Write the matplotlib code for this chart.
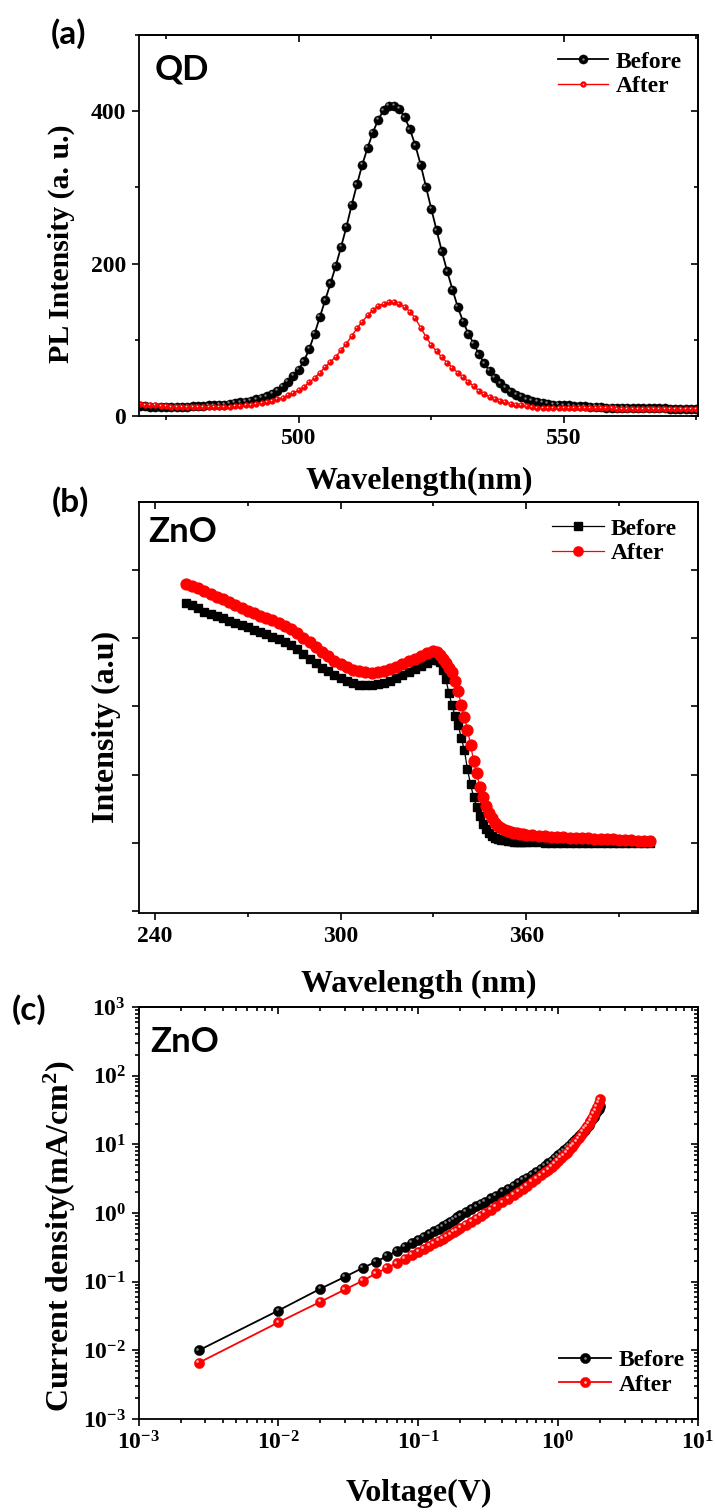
import matplotlib
matplotlib.use('Agg')
import math
import matplotlib.pyplot as plt
from matplotlib.ticker import MultipleLocator, NullFormatter, FuncFormatter, NullLocator
from matplotlib.transforms import offset_copy
from matplotlib.legend_handler import HandlerTuple

# ---------------- data ----------------
# (a) PL of the QD film, 1 nm steps
qd_wavelength = list(range(470, 576))
qd_before = [13, 13, 12, 12, 12, 12, 12, 12, 12, 12,
             13, 13, 13, 14, 14, 15, 15, 16, 17, 18,
             19, 20, 22, 24, 26, 29, 33, 38, 45, 53,
             61, 72, 88, 108, 130, 152, 174, 197, 222, 248,
             277, 304, 330, 352, 372, 389, 401, 407, 407, 403,
             392, 376, 355, 330, 301, 272, 244, 216, 190, 166,
             143, 124, 108, 95, 81, 69, 59, 50, 43, 37,
             32, 28, 25, 22, 20, 19, 17, 16, 15, 15,
             14, 14, 13, 13, 13, 12, 12, 12, 11, 11,
             11, 11, 11, 10, 10, 10, 10, 10, 10, 10,
             9, 9, 9, 9, 9, 9]
qd_after = [16, 15, 14, 14, 13, 13, 12, 12, 12, 12,
            12, 12, 12, 12, 12, 12, 12, 12, 13, 13,
            14, 15, 16, 17, 18, 20, 22, 24, 27, 30,
            34, 38, 44, 50, 57, 64, 71, 78, 86, 95,
            105, 115, 124, 132, 139, 144, 147, 149, 149, 147,
            143, 137, 128, 116, 104, 93, 85, 77, 70, 63,
            57, 51, 45, 39, 33, 29, 25, 22, 20, 18,
            16, 15, 14, 13, 12, 11, 11, 11, 10, 10,
            10, 10, 10, 10, 10, 10, 10, 10, 10, 10,
            9, 9, 9, 9, 9, 9, 9, 9, 9, 9,
            9, 9, 9, 9, 9, 9]

# (b) ZnO absorption
zno_wavelength = (list(range(250, 330, 2)) + list(range(330, 361))
                  + list(range(362, 401, 2)))
zno_before = [1.76, 1.74, 1.72, 1.695, 1.675, 1.66, 1.645, 1.628, 1.61, 1.595,
              1.58, 1.563, 1.547, 1.53, 1.512, 1.495, 1.475, 1.45, 1.42, 1.385,
              1.35, 1.315, 1.285, 1.258, 1.232, 1.21, 1.19, 1.172, 1.16, 1.154,
              1.155, 1.162, 1.172, 1.188, 1.207, 1.228, 1.252, 1.277, 1.30, 1.322,
              1.34, 1.342, 1.325, 1.27, 1.20, 1.10, 1.01, 0.93, 0.865, 0.77,
              0.68, 0.54, 0.43, 0.335, 0.26, 0.195, 0.14, 0.10, 0.072, 0.052,
              0.040, 0.031, 0.024, 0.019, 0.015, 0.012, 0.010, 0.008, 0.007, 0.006,
              0.005,
              0.004, 0.004, 0.003, 0.003, 0.002, 0.002, 0.002, 0.001, 0.001, 0.001,
              0.0, 0.0, 0.0, 0.0, 0.0, 0.0, 0.0, 0.0, 0.0, 0.0]
zno_after = [1.90, 1.88, 1.865, 1.845, 1.825, 1.805, 1.785, 1.765, 1.742, 1.722,
             1.703, 1.685, 1.665, 1.648, 1.63, 1.612, 1.59, 1.565, 1.535, 1.503,
             1.47, 1.435, 1.40, 1.367, 1.335, 1.308, 1.287, 1.27, 1.257, 1.25,
             1.248, 1.252, 1.262, 1.275, 1.29, 1.308, 1.33, 1.35, 1.37, 1.39,
             1.405, 1.40, 1.38, 1.35, 1.315, 1.28, 1.25, 1.19, 1.11, 1.01,
             0.92, 0.83, 0.72, 0.60, 0.51, 0.41, 0.34, 0.27, 0.22, 0.18,
             0.15, 0.125, 0.11, 0.098, 0.09, 0.082, 0.076, 0.071, 0.067, 0.063,
             0.06,
             0.056, 0.053, 0.05, 0.047, 0.044, 0.042, 0.04, 0.038, 0.036, 0.034,
             0.032, 0.03, 0.028, 0.026, 0.024, 0.022, 0.02, 0.018, 0.016, 0.015]

# (c) J-V of the ZnO electron-only device
voltage = [0.0027, 0.01, 0.02, 0.03, 0.04, 0.05, 0.06, 0.07, 0.08, 0.09,
           0.10, 0.11, 0.12, 0.13, 0.14, 0.15, 0.16, 0.17, 0.18, 0.19,
           0.20, 0.22, 0.24, 0.26, 0.28, 0.30, 0.33, 0.36, 0.40, 0.44,
           0.48, 0.52, 0.56, 0.60, 0.65, 0.70, 0.75, 0.80, 0.85, 0.90,
           0.95, 1.00, 1.05, 1.10, 1.15, 1.20, 1.25, 1.30, 1.35, 1.40,
           1.45, 1.50, 1.55, 1.60, 1.65, 1.70, 1.75, 1.80, 1.85, 1.90,
           1.95, 2.00]
j_before = [0.0100, 0.038, 0.079, 0.118, 0.158, 0.196, 0.236, 0.278, 0.32, 0.365,
            0.41, 0.45, 0.50, 0.54, 0.59, 0.64, 0.69, 0.74, 0.80, 0.86,
            0.92, 1.03, 1.14, 1.25, 1.36, 1.47, 1.63, 1.79, 2.02, 2.25,
            2.50, 2.75, 3.00, 3.27, 3.62, 4.0, 4.4, 4.85, 5.3, 5.8,
            6.35, 6.9, 7.5, 8.2, 8.9, 9.6, 10.4, 11.2, 12.1, 13.1,
            14.1, 15.2, 16.4, 17.8, 19.3, 21.0, 23.0, 25.2, 27.6, 30.2,
            33.0, 36.0]
j_after = [0.0066, 0.0255, 0.051, 0.077, 0.103, 0.132, 0.159, 0.185, 0.213, 0.243,
           0.27, 0.30, 0.33, 0.36, 0.39, 0.42, 0.455, 0.49, 0.525, 0.56,
           0.60, 0.67, 0.75, 0.83, 0.91, 1.0, 1.12, 1.25, 1.43, 1.62,
           1.82, 2.03, 2.25, 2.50, 2.82, 3.16, 3.52, 3.9, 4.3, 4.75,
           5.2, 5.75, 6.3, 6.9, 7.6, 8.3, 9.1, 10.0, 11.0, 12.2,
           13.5, 15.0, 16.6, 18.2, 20.0, 22.0, 24.5, 27.5, 31.0, 35.0,
           40.0, 45.0]

series_labels = ['Before', 'After']

# ---------------- style ----------------
plt.rcParams['font.family'] = ['Liberation Serif', 'DejaVu Serif']
plt.rcParams['font.weight'] = 'bold'
plt.rcParams['mathtext.fontset'] = 'custom'
plt.rcParams['mathtext.rm'] = 'Liberation Serif:bold'
plt.rcParams['mathtext.it'] = 'Liberation Serif:bold'
plt.rcParams['mathtext.bf'] = 'Liberation Serif:bold'
plt.rcParams['axes.linewidth'] = 1.3

SANS = ['Lato', 'DejaVu Sans']
W, H = 715, 1512


def fx(px):
    return px / W


def fy(py):
    return 1 - py / H


def sphere(ax, x, y, color, shine, ms, lw):
    # filled ball plus a small highlight up-left, like Origin's sphere symbol
    line, = ax.plot(x, y, '-o', color=color, ms=ms, lw=lw, mec=color, mew=0.3)
    tr = offset_copy(ax.transData, fig=ax.figure, x=-ms * 0.17, y=ms * 0.17, units='points')
    dot, = ax.plot(x, y, 'o', color=shine, ms=ms * 0.26, mec='none', transform=tr)
    return (line, dot)


def style_axis(ax, log=False):
    ax.tick_params(which='both', direction='out', width=1.2, labelsize=17, pad=4)
    ax.tick_params(which='major', length=5)
    ax.tick_params(which='minor', length=3)
    top = ax.secondary_xaxis('top')
    right = ax.secondary_yaxis('right')
    for sec in (top, right):
        sec.tick_params(which='both', direction='in', width=1.2)
        sec.tick_params(which='major', length=5)
        sec.tick_params(which='minor', length=3)
    if not log:
        top.xaxis.set_major_locator(ax.xaxis.get_major_locator())
        top.xaxis.set_minor_locator(ax.xaxis.get_minor_locator())
        right.yaxis.set_major_locator(ax.yaxis.get_major_locator())
        right.yaxis.set_minor_locator(ax.yaxis.get_minor_locator())
    for a in (top.xaxis, right.yaxis):
        a.set_major_formatter(NullFormatter())
        a.set_minor_formatter(NullFormatter())


def add_legend(ax, handles, x, y, handlelength):
    ax.legend(handles=handles, labels=series_labels,
              handler_map={tuple: HandlerTuple(ndivide=1, pad=0)},
              loc='upper left', bbox_to_anchor=(x, y), frameon=False,
              fontsize=17, handlelength=handlelength, handletextpad=0.3,
              labelspacing=0.12, borderpad=0, borderaxespad=0)


def log_label(v, pos):
    return r'$10^{%d}$' % round(math.log10(v))


fig = plt.figure(figsize=(W / 100, H / 100), dpi=100)
fig.patch.set_facecolor('white')

# ---------------- (a) QD PL ----------------
ax1 = fig.add_axes([fx(138.5), fy(416), 559.5 / W, 381 / H])
h1 = sphere(ax1, qd_wavelength, qd_before, 'black', '#808080', 6.6, 1.3)
h2 = sphere(ax1, qd_wavelength, qd_after, '#ff0000', '#ffd0d0', 4.2, 1.0)
ax1.set_xlim(469.8, 575.3)
ax1.set_ylim(0, 500)
ax1.xaxis.set_major_locator(MultipleLocator(50))
ax1.xaxis.set_minor_locator(MultipleLocator(25))
ax1.yaxis.set_major_locator(MultipleLocator(200))
ax1.yaxis.set_minor_locator(MultipleLocator(100))
style_axis(ax1)
ax1.text(0.029, 0.909, 'QD', transform=ax1.transAxes, ha='left', va='center',
         fontsize=25, fontweight='bold', family=SANS)
add_legend(ax1, [h1, h2], 0.749, 0.958, 2.15)

# ---------------- (b) ZnO absorption ----------------
ax2 = fig.add_axes([fx(138.5), fy(913), 559.5 / W, 411 / H])
hb, = ax2.plot(zno_wavelength, zno_before, '-s', color='black', ms=6.3, lw=0.9)
ha_, = ax2.plot(zno_wavelength, zno_after, '-o', color='#ff0000', ms=7.8, lw=0.9)
ax2.set_xlim(234.7, 415.5)
ax2.set_ylim(-0.513, 2.498)
ax2.xaxis.set_major_locator(MultipleLocator(60))
ax2.xaxis.set_minor_locator(MultipleLocator(30))
ax2.yaxis.set_major_locator(MultipleLocator(0.5))
ax2.yaxis.set_minor_locator(NullLocator())
ax2.yaxis.set_major_formatter(NullFormatter())
style_axis(ax2)
ax2.text(0.017, 0.926, 'ZnO', transform=ax2.transAxes, ha='left', va='center',
         fontsize=25, fontweight='bold', family=SANS)
ax2.legend(handles=[hb, ha_], labels=series_labels, loc='upper left',
           bbox_to_anchor=(0.739, 0.961), frameon=False, fontsize=17,
           handlelength=2.2, handletextpad=0.3, labelspacing=0.12,
           borderpad=0, borderaxespad=0, markerscale=0.85)

# ---------------- (c) J-V ----------------
ax3 = fig.add_axes([fx(138.5), fy(1419), 559.5 / W, 412 / H])
ax3.set_xscale('log')
ax3.set_yscale('log')
h3 = sphere(ax3, voltage, j_before, 'black', '#808080', 7.4, 1.3)
h4 = sphere(ax3, voltage, j_after, '#ff0000', '#ffbcbc', 7.4, 1.3)
ax3.set_xlim(1e-3, 1e1)
ax3.set_ylim(1e-3, 1e3)
ax3.xaxis.set_major_formatter(FuncFormatter(log_label))
ax3.yaxis.set_major_formatter(FuncFormatter(log_label))
style_axis(ax3, log=True)
ax3.text(0.021, 0.914, 'ZnO', transform=ax3.transAxes, ha='left', va='center',
         fontsize=25, fontweight='bold', family=SANS)
add_legend(ax3, [h3, h4], 0.752, 0.168, 2.2)

# ---------------- axis titles and panel letters ----------------
fig.text(fx(61), fy(244), 'PL Intensity (a. u.)', rotation=90, ha='center', va='center', fontsize=21.5)
fig.text(fx(419), fy(481), 'Wavelength(nm)', ha='center', va='center', fontsize=23)
fig.text(fx(106), fy(727), 'Intensity (a.u)', rotation=90, ha='center', va='center', fontsize=23)
fig.text(fx(419), fy(984), 'Wavelength (nm)', ha='center', va='center', fontsize=23)
fig.text(fx(60), fy(1236), 'Current density(mA/cm$^2$)', rotation=90, ha='center', va='center', fontsize=23)
fig.text(fx(419), fy(1493), 'Voltage(V)', ha='center', va='center', fontsize=23)

for lbl, px, py in [('(a)', 69, 34), ('(b)', 70, 502), ('(c)', 29, 1010)]:
    fig.text(fx(px), fy(py), lbl, ha='center', va='center', fontsize=24,
             fontweight='bold', family=SANS)

fig.savefig('out.png', dpi=100, facecolor='white')
